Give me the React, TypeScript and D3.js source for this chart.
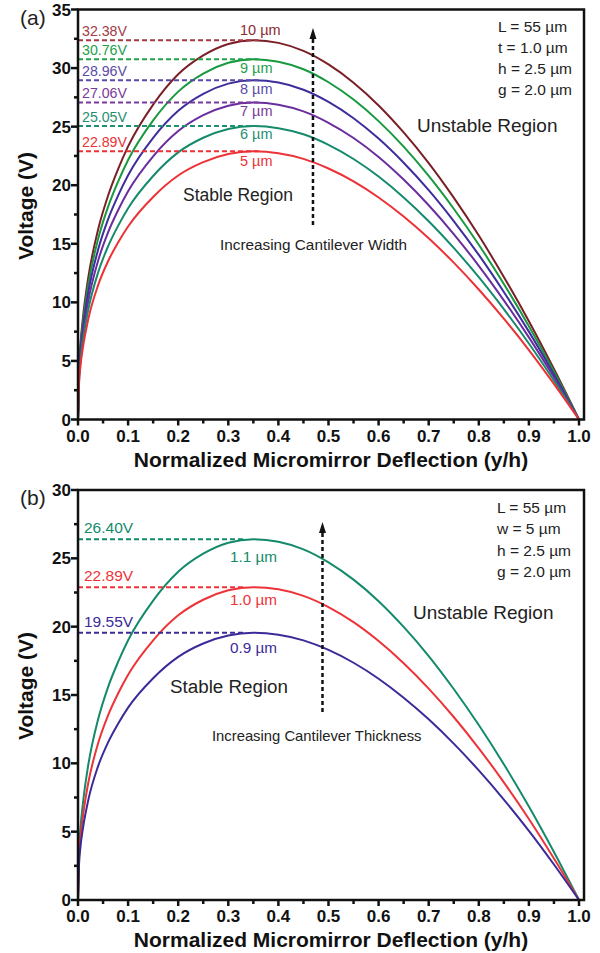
import React from "react";
import * as d3 from "d3";

// ---------- DATA ----------
const deflection = [0, 0.002, 0.005, 0.01, 0.02, 0.04, 0.06, 0.08, 0.1, 0.15, 0.2, 0.25, 0.3, 0.35, 0.4, 0.45, 0.5, 0.55, 0.6, 0.65, 0.7, 0.75, 0.8, 0.85, 0.9, 0.95, 1.0];

// Panel (a): cantilever width
const widthLabels = ["10 µm", "9 µm", "8 µm", "7 µm", "6 µm", "5 µm"];
const widthPeaks = [32.38, 30.76, 28.96, 27.06, 25.05, 22.89];
const width10 = [0, 4.21, 6.48, 8.74, 11.98, 16.19, 19.10, 21.37, 23.31, 26.88, 29.47, 31.08, 32.06, 32.38, 32.15, 31.47, 30.31, 28.75, 26.81, 24.51, 21.89, 18.94, 15.70, 12.17, 8.39, 4.31, 0];
const width9 = [0, 4.00, 6.15, 8.31, 11.38, 15.38, 18.15, 20.30, 22.15, 25.53, 27.99, 29.53, 30.45, 30.76, 30.54, 29.90, 28.79, 27.31, 25.47, 23.29, 20.79, 17.99, 14.92, 11.57, 7.97, 4.09, 0];
const width8 = [0, 3.76, 5.79, 7.82, 10.72, 14.48, 17.09, 19.11, 20.85, 24.04, 26.35, 27.80, 28.67, 28.96, 28.76, 28.15, 27.11, 25.72, 23.98, 21.92, 19.58, 16.94, 14.05, 10.89, 7.50, 3.85, 0];
const width7 = [0, 3.52, 5.41, 7.31, 10.01, 13.53, 15.97, 17.86, 19.48, 22.46, 24.62, 25.98, 26.79, 27.06, 26.87, 26.30, 25.33, 24.03, 22.41, 20.48, 18.29, 15.83, 13.12, 10.17, 7.01, 3.60, 0];
const width6 = [0, 3.26, 5.01, 6.76, 9.27, 12.53, 14.78, 16.53, 18.04, 20.79, 22.80, 24.05, 24.80, 25.05, 24.87, 24.35, 23.45, 22.24, 20.74, 18.96, 16.93, 14.65, 12.15, 9.42, 6.49, 3.33, 0];
const width5 = [0, 2.98, 4.58, 6.18, 8.47, 11.45, 13.51, 15.11, 16.48, 19.00, 20.83, 21.97, 22.66, 22.89, 22.73, 22.25, 21.43, 20.33, 18.95, 17.33, 15.47, 13.39, 11.10, 8.61, 5.93, 3.04, 0];

// Panel (b): cantilever thickness
const thickLabels = ["1.1 µm", "1.0 µm", "0.9 µm"];
const thickPeaks = [26.40, 22.89, 19.55];
const thick11 = [0, 3.43, 5.28, 7.13, 9.77, 13.20, 15.58, 17.42, 19.01, 21.91, 24.02, 25.34, 26.14, 26.40, 26.22, 25.66, 24.71, 23.44, 21.86, 19.98, 17.85, 15.44, 12.80, 9.93, 6.84, 3.51, 0];
const thick10 = [0, 2.98, 4.58, 6.18, 8.47, 11.45, 13.51, 15.11, 16.48, 19.00, 20.83, 21.97, 22.66, 22.89, 22.73, 22.25, 21.43, 20.33, 18.95, 17.33, 15.47, 13.39, 11.10, 8.61, 5.93, 3.04, 0];
const thick09 = [0, 2.54, 3.91, 5.28, 7.23, 9.78, 11.53, 12.90, 14.08, 16.23, 17.79, 18.77, 19.35, 19.55, 19.41, 19.00, 18.30, 17.36, 16.19, 14.80, 13.22, 11.44, 9.48, 7.35, 5.06, 2.60, 0];

const xTicks = [0, 0.1, 0.2, 0.3, 0.4, 0.5, 0.6, 0.7, 0.8, 0.9, 1.0];
const yTicksA = [0, 5, 10, 15, 20, 25, 30, 35];
const yTicksB = [0, 5, 10, 15, 20, 25, 30];
const paramsA = ["L = 55 µm", "t = 1.0 µm", "h = 2.5 µm", "g = 2.0 µm"];
const paramsB = ["L = 55 µm", "w = 5 µm", "h = 2.5 µm", "g = 2.0 µm"];

// ---------- STYLE ----------
const FONT = "'Liberation Sans', Arial, Helvetica, sans-serif";
const colorsA = ["#7a1f26", "#17993f", "#3d2e9c", "#6a2d9e", "#168a6c", "#ec3237"];
const valColorsA = ["#a33a45", "#22a04a", "#5a4aa8", "#7a3a9a", "#1f8f72", "#ec3237"];
const colorsB = ["#138a6a", "#ee3338", "#3a2b98"];

type PanelProps = {
  tag: string;
  yMax: number;
  yTicks: number[];
  yBottom: number;
  yTop: number;
  series: number[][];
  peaks: number[];
  labels: string[];
  colors: string[];
  valColors: string[];
  labelX: number;
  labelBaselines: number[];
  labelSize: number;
  valSize: number;
  valX: number;
  valOffset: number;
  dashEnd: number;
  params: string[];
  paramBaselines: number[];
  paramX: number;
  unstable: [number, number];
  stable: [number, number, number];
  arrowX: number;
  arrowTop: number;
  arrowBottom: number;
  incText: string;
  incPos: [number, number, number];
  yTitleCenter: number;
};

const xScale = d3.scaleLinear().domain([0, 1]).range([78, 579]);

function Panel(p: PanelProps) {
  const y = d3.scaleLinear().domain([0, p.yMax]).range([p.yBottom, p.yTop]);
  const line = d3
    .line<number>()
    .x((_, i) => xScale(deflection[i]))
    .y((v) => y(v))
    .curve(d3.curveMonotoneX);
  const left = xScale(0);
  const right = xScale(1.01);
  const minorX = d3.range(0.05, 1.0, 0.1);
  const minorY = d3.range(2.5, p.yMax, 5);
  const ax = "#111";
  return (
    <g>
      <text x={20} y={p.yTop + 15} fontFamily={FONT} fontSize={21} fill="#222">
        {p.tag}
      </text>
      {/* curves */}
      {p.series.map((s, i) => (
        <path key={"c" + i} d={line(s) || ""} fill="none" stroke={p.colors[i]} strokeWidth={2} />
      ))}
      {/* dashed peak lines */}
      {p.peaks.map((v, i) => (
        <line
          key={"d" + i}
          x1={left}
          x2={xScale(p.dashEnd)}
          y1={y(v)}
          y2={y(v)}
          stroke={p.valColors[i]}
          strokeWidth={2}
          strokeDasharray="5,3"
        />
      ))}
      {p.peaks.map((v, i) => (
        <text
          key={"v" + i}
          x={p.valX}
          y={y(v) - p.valOffset}
          fontFamily={FONT}
          fontSize={p.valSize}
          fill={p.valColors[i]}
        >
          {v.toFixed(2) + "V"}
        </text>
      ))}
      {p.labels.map((t, i) => (
        <text
          key={"l" + i}
          x={p.labelX}
          y={p.labelBaselines[i]}
          fontFamily={FONT}
          fontSize={p.labelSize}
          fill={p.colors[i] === "#7a1f26" ? "#8b2a30" : p.valColors[i]}
        >
          {t}
        </text>
      ))}
      {/* frame */}
      <rect x={left} y={p.yTop} width={right - left} height={p.yBottom - p.yTop} fill="none" stroke={ax} strokeWidth={2.5} />
      {/* x ticks */}
      {xTicks.map((t) => (
        <g key={"xt" + t}>
          <line x1={xScale(t)} x2={xScale(t)} y1={p.yBottom} y2={p.yBottom + 6} stroke={ax} strokeWidth={2.5} />
          <text
            x={xScale(t)}
            y={p.yBottom + 22}
            textAnchor="middle"
            fontFamily={FONT}
            fontSize={17}
            fontWeight="bold"
            fill={ax}
          >
            {t.toFixed(1)}
          </text>
        </g>
      ))}
      {minorX.map((t) => (
        <line key={"xm" + t} x1={xScale(t)} x2={xScale(t)} y1={p.yBottom} y2={p.yBottom + 4} stroke={ax} strokeWidth={2.5} />
      ))}
      {/* y ticks */}
      {p.yTicks.map((t) => (
        <g key={"yt" + t}>
          <line x1={left - 7} x2={left} y1={y(t)} y2={y(t)} stroke={ax} strokeWidth={2.5} />
          <text
            x={left - 7}
            y={y(t)}
            dy="0.36em"
            textAnchor="end"
            fontFamily={FONT}
            fontSize={17}
            fontWeight="bold"
            fill={ax}
          >
            {t}
          </text>
        </g>
      ))}
      {minorY.map((t) => (
        <line key={"ym" + t} x1={left - 4} x2={left} y1={y(t)} y2={y(t)} stroke={ax} strokeWidth={2.5} />
      ))}
      {/* axis titles */}
      <text
        x={331}
        y={p.yBottom + 47}
        textAnchor="middle"
        fontFamily={FONT}
        fontSize={21}
        fontWeight="bold"
        fill={ax}
      >
        Normalized Micromirror Deflection (y/h)
      </text>
      <text
        transform={`translate(33,${p.yTitleCenter}) rotate(-90)`}
        textAnchor="middle"
        fontFamily={FONT}
        fontSize={21}
        fontWeight="bold"
        fill={ax}
      >
        Voltage (V)
      </text>
      {/* parameters */}
      {p.params.map((t, i) => (
        <text key={"p" + i} x={p.paramX} y={p.paramBaselines[i]} fontFamily={FONT} fontSize={15.5} fill="#222">
          {t}
        </text>
      ))}
      <text x={p.unstable[0]} y={p.unstable[1]} fontFamily={FONT} fontSize={19} fill="#222">
        Unstable Region
      </text>
      <text x={p.stable[0]} y={p.stable[1]} fontFamily={FONT} fontSize={p.stable[2]} fill="#222">
        Stable Region
      </text>
      {/* arrow */}
      <line
        x1={p.arrowX}
        x2={p.arrowX}
        y1={p.arrowBottom}
        y2={p.arrowTop + 8}
        stroke="#111"
        strokeWidth={2.5}
        strokeDasharray="4,3"
      />
      <path
        d={`M${p.arrowX},${p.arrowTop} L${p.arrowX - 3.5},${p.arrowTop + 11} L${p.arrowX + 3.5},${p.arrowTop + 11} Z`}
        fill="#111"
      />
      <text x={p.incPos[0]} y={p.incPos[1]} fontFamily={FONT} fontSize={p.incPos[2]} fill="#222">
        {p.incText}
      </text>
    </g>
  );
}

export default function App() {
  return (
    <svg
      width={600}
      height={953}
      viewBox="0 0 600 953"
      style={{ position: "absolute", left: 0, top: 0, background: "#fff" }}
    >
      <rect x={0} y={0} width={600} height={953} fill="#fff" />
      <Panel
        tag="(a)"
        yMax={35}
        yTicks={yTicksA}
        yBottom={419.5}
        yTop={9.5}
        series={[width10, width9, width8, width7, width6, width5]}
        peaks={widthPeaks}
        labels={widthLabels}
        colors={colorsA}
        valColors={valColorsA}
        labelX={240}
        labelBaselines={[35, 73, 94, 116, 139, 166]}
        labelSize={14.5}
        valSize={14.2}
        valX={82}
        valOffset={4.5}
        dashEnd={0.36}
        params={paramsA}
        paramBaselines={[32, 53, 74, 95]}
        paramX={498}
        unstable={[417, 132]}
        stable={[183, 201, 17.5]}
        arrowX={xScale(0.469)}
        arrowTop={28}
        arrowBottom={225}
        incText="Increasing Cantilever Width"
        incPos={[220, 250, 15.3]}
        yTitleCenter={206}
      />
      <Panel
        tag="(b)"
        yMax={30}
        yTicks={yTicksB}
        yBottom={900}
        yTop={490}
        series={[thick11, thick10, thick09]}
        peaks={thickPeaks}
        labels={thickLabels}
        colors={colorsB}
        valColors={colorsB}
        labelX={230}
        labelBaselines={[562, 605, 653]}
        labelSize={15.3}
        valSize={15.5}
        valX={84}
        valOffset={6}
        dashEnd={0.33}
        params={paramsB}
        paramBaselines={[513, 534, 556, 577]}
        paramX={497}
        unstable={[413, 619]}
        stable={[170, 693, 18.8]}
        arrowX={xScale(0.488)}
        arrowTop={522}
        arrowBottom={712}
        incText="Increasing Cantilever Thickness"
        incPos={[212, 741, 14.8]}
        yTitleCenter={686}
      />
    </svg>
  );
}
